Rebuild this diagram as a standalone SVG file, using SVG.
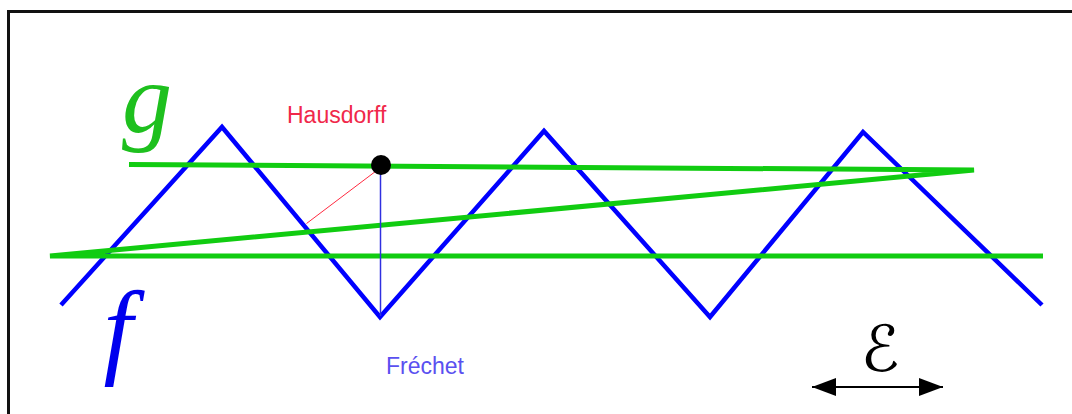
<svg xmlns="http://www.w3.org/2000/svg" width="1072" height="414" viewBox="0 0 1072 414">
<defs>
<style>
.lbl{font-family:"Liberation Sans",Arial,sans-serif;font-size:23px}
.math{font-family:"Liberation Serif","Times New Roman",serif;font-style:italic}
</style>
<marker id="ah" viewBox="0 0 24 18" refX="24" refY="9" markerWidth="24" markerHeight="18" markerUnits="userSpaceOnUse" orient="auto-start-reverse">
<path d="M0,0 L24,9 L0,18 Z" fill="#000"/>
</marker>
</defs>
<rect width="1072" height="414" fill="#fff"/>
<rect x="8.5" y="11.5" width="1100" height="500" fill="none" stroke="#111" stroke-width="3"/>
<g id="f-curve">
<polyline points="61,305 222,127 380,317 544,131 710,317 863,132 1042,305" fill="none" stroke="#0000ff" stroke-width="4.5" stroke-linejoin="miter"/>
</g>
<g id="g-curve">
<polyline points="129,164.5 974,170 50,256 1043,256" fill="none" stroke="#11cc11" stroke-width="5"/>
</g>
<g id="connectors">
<line x1="380" y1="168" x2="306.5" y2="223.5" stroke="#ff2a40" stroke-width="1"/>
<line x1="380.5" y1="166" x2="380.5" y2="316" stroke="#3030e0" stroke-width="1.5"/>
<line x1="812" y1="387" x2="943" y2="387" stroke="#000" stroke-width="2" marker-start="url(#ah)" marker-end="url(#ah)"/>
</g>
<g id="point">
<circle cx="381" cy="165" r="10" fill="#000"/>
</g>
<g id="labels">
<text class="lbl" x="287" y="123" fill="#f0284a">Hausdorff</text>
<text class="lbl" x="386" y="374" fill="#5a50f0" font-size="22">Fréchet</text>
<text class="math" x="147" y="132" font-size="100" fill="#1ec01e" text-anchor="middle">g</text>
<text class="math" x="118" y="364" font-size="105" fill="#0000ee" text-anchor="middle">f</text>
<text x="880" y="371" font-family="DejaVu Sans,sans-serif" font-size="64" fill="#000" text-anchor="middle">ℰ</text>
</g>
</svg>
